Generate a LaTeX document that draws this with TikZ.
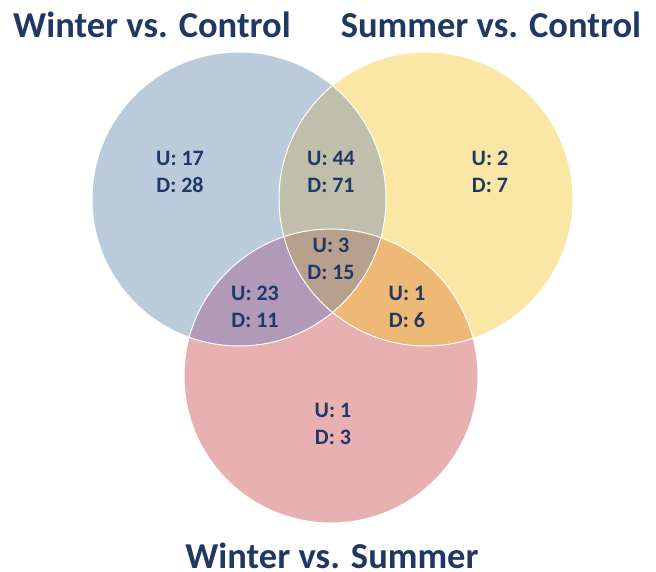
\documentclass[tikz,border=0pt]{standalone}
\usepackage{fontspec}
\setmainfont{Carlito}
\definecolor{cBlue}{HTML}{BBCBDC}
\definecolor{cYel}{HTML}{FAE7A5}
\definecolor{cRed}{HTML}{E8B0B0}
\definecolor{cBY}{HTML}{BFBFAB}
\definecolor{cBR}{HTML}{B09AB8}
\definecolor{cYR}{HTML}{EEB877}
\definecolor{cAll}{HTML}{B8A08F}
\definecolor{cText}{HTML}{1F3864}
\tikzset{
  count/.style={text=cText, font=\bfseries\fontsize{22}{27}\selectfont, align=center, inner sep=0pt},
  title/.style={text=cText, font=\bfseries\fontsize{36.5}{40}\selectfont, inner sep=0pt},
  rim/.style={draw=white, line width=1pt}
}
\begin{document}
\begin{tikzpicture}[x=1pt,y=1pt]
\useasboundingbox (0,0) rectangle (656,572);
\def\pathB{(239,373) circle (147)}
\def\pathY{(426,373) circle (147)}
\def\pathR{(331,196) circle (147)}
\fill[cBlue] \pathB;
\fill[cYel] \pathY;
\fill[cRed] \pathR;
\begin{scope}\clip \pathB; \fill[cBY] \pathY; \end{scope}
\begin{scope}\clip \pathB; \fill[cBR] \pathR; \end{scope}
\begin{scope}\clip \pathY; \fill[cYR] \pathR; \end{scope}
\begin{scope}\clip \pathB; \clip \pathY; \fill[cAll] \pathR; \end{scope}
\draw[rim] \pathB;
\draw[rim] \pathY;
\draw[rim] \pathR;
\node[count] (wc) at (180,400.5) {U: 17\\D: 28};
\node[count] (sc) at (490,400.5) {U: 2\\D: 7};
\node[count] (wcsc) at (331,400.5) {U: 44\\D: 71};
\node[count] (all) at (331,313) {U: 3\\D: 15};
\node[count] (wcws) at (255,265.5) {U: 23\\D: 11};
\node[count] (scws) at (407,265.5) {U: 1\\D: 6};
\node[count] (ws) at (333,148.5) {U: 1\\D: 3};
\node[title] (t1) at (152,547) {Winter vs. Control};
\node[title] (t2) at (491,547) {Summer vs. Control};
\node[title] (t3) at (332,16) {Winter vs. Summer};
\end{tikzpicture}
\end{document}
